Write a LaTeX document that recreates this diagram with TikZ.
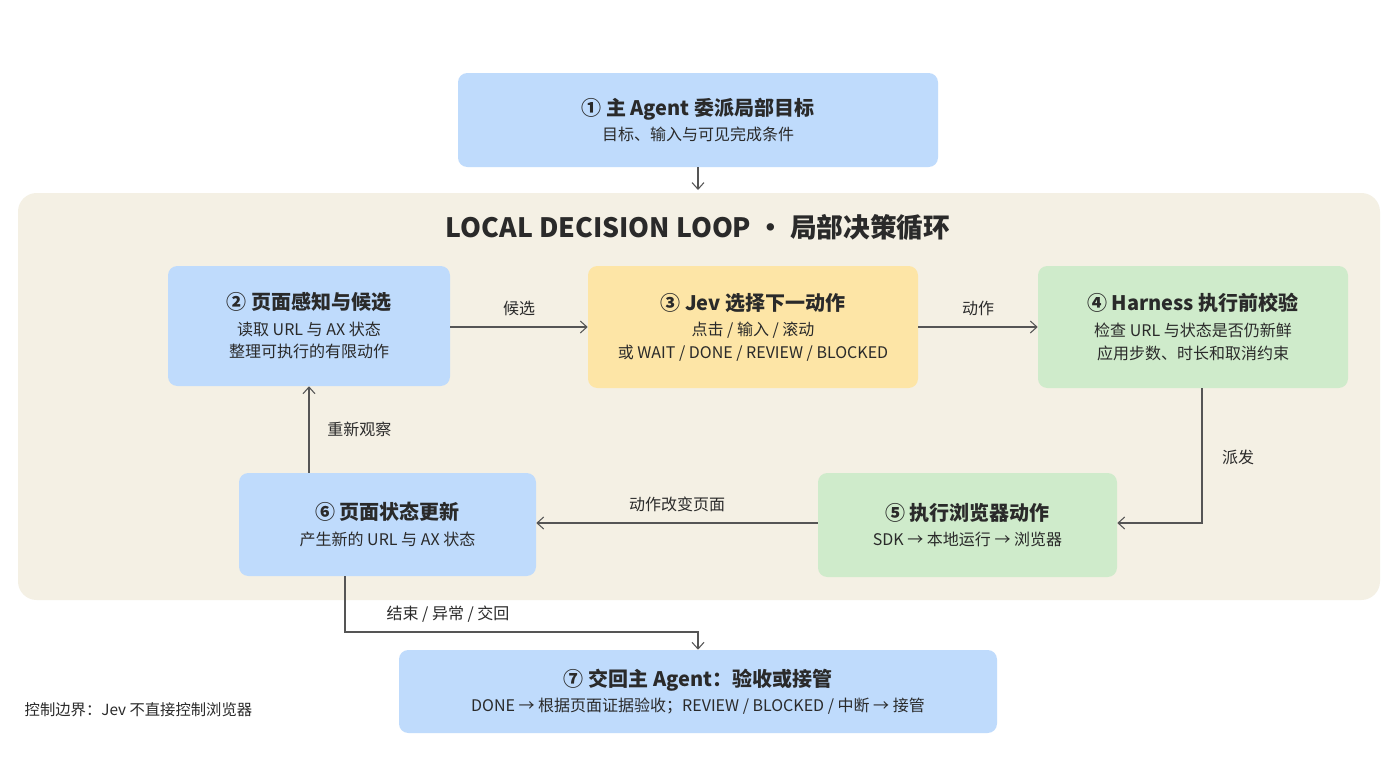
\documentclass[tikz,border=0pt]{standalone}
\usepackage{fontspec}
\setmainfont{Noto Sans CJK SC}
\usetikzlibrary{arrows.meta}
\definecolor{bl}{HTML}{BFDBFC}
\definecolor{yl}{HTML}{FDE5A6}
\definecolor{gr}{HTML}{CFEBCB}
\definecolor{bg}{HTML}{F4F0E4}
\definecolor{tx}{HTML}{2A2A2A}
\definecolor{ln}{HTML}{555555}
\begin{document}
\begin{tikzpicture}[x=0.75pt,y=-0.75pt,
 box/.style={rounded corners=7pt,draw=none,align=center,text=tx,inner sep=0pt,font=\fontsize{12}{17}\selectfont},
 arr/.style={draw=ln,line width=0.8pt,-{Straight Barb[length=5pt,width=9pt]}},
 lab/.style={text=tx,font=\fontsize{12}{14}\selectfont}]
\useasboundingbox[fill=white] (0,0) rectangle (1400,775);
\fill[bg,rounded corners=14pt] (18,193) rectangle (1380,600);
\node[text=tx,font=\fontsize{20}{24}\selectfont\bfseries] (title) at (698,227) {LOCAL DECISION LOOP · 局部决策循环};
\node[box,fill=bl,minimum width=360pt,minimum height=70.5pt] (n1) at (698,120) {{\fontsize{15}{20}\selectfont\bfseries ① 主 Agent 委派局部目标}\\[2pt]目标、输入与可见完成条件};
\node[box,fill=bl,minimum width=211.5pt,minimum height=90pt] (n2) at (309,326) {{\fontsize{15}{20}\selectfont\bfseries ② 页面感知与候选}\\[2pt]读取 URL 与 AX 状态\\整理可执行的有限动作};
\node[box,fill=yl,minimum width=247.5pt,minimum height=91.5pt] (n3) at (753,327) {{\fontsize{15}{20}\selectfont\bfseries ③ Jev 选择下一动作}\\[2pt]点击 / 输入 / 滚动\\或 WAIT / DONE / REVIEW / BLOCKED};
\node[box,fill=gr,minimum width=232.5pt,minimum height=91.5pt] (n4) at (1193,327) {{\fontsize{15}{20}\selectfont\bfseries ④ Harness 执行前校验}\\[2pt]检查 URL 与状态是否仍新鲜\\应用步数、时长和取消约束};
\node[box,fill=bl,minimum width=222.75pt,minimum height=77.25pt] (n6) at (387.5,524.5) {{\fontsize{15}{20}\selectfont\bfseries ⑥ 页面状态更新}\\[2pt]产生新的 URL 与 AX 状态};
\node[box,fill=gr,minimum width=224.25pt,minimum height=78pt] (n5) at (967.5,525) {{\fontsize{15}{20}\selectfont\bfseries ⑤ 执行浏览器动作}\\[2pt]SDK → 本地运行 → 浏览器};
\node[box,fill=bl,minimum width=448.5pt,minimum height=62.25pt] (n7) at (698,691.5) {{\fontsize{15}{20}\selectfont\bfseries ⑦ 交回主 Agent：验收或接管}\\[2pt]DONE → 根据页面证据验收；REVIEW / BLOCKED / 中断 → 接管};
\node[lab,anchor=west,font=\fontsize{11.5}{14}\selectfont] (note) at (20,710) {控制边界：Jev 不直接控制浏览器};
\coordinate (lt) at (698,190);
\draw[arr] (n1.south) -- (lt);
\draw[arr] (n2.east |- 0,327) -- node[lab,above=5pt]{候选} (n3.west |- 0,327);
\draw[arr] (n3.east |- 0,327) -- node[lab,above=5pt]{动作} (n4.west |- 0,327);
\coordinate (c4) at (1202,523);
\draw[arr] (n4.south -| c4) -- (c4) -- (n5.east |- c4);
\node[lab] (l45) at (1238,457) {派发};
\draw[arr] (n5.west |- 0,523) -- node[lab,above=5pt]{动作改变页面} (n6.east |- 0,523);
\draw[arr] (n6.north -| n2.south) -- node[lab,right=10pt]{重新观察} (n2.south);
\coordinate (c6) at (345,632);
\coordinate (c7) at (698,632);
\draw[arr] (n6.south -| c6) -- (c6) -- (c7) -- (n7.north);
\node[lab] (l67) at (448,614) {结束 / 异常 / 交回};
\end{tikzpicture}
\end{document}
